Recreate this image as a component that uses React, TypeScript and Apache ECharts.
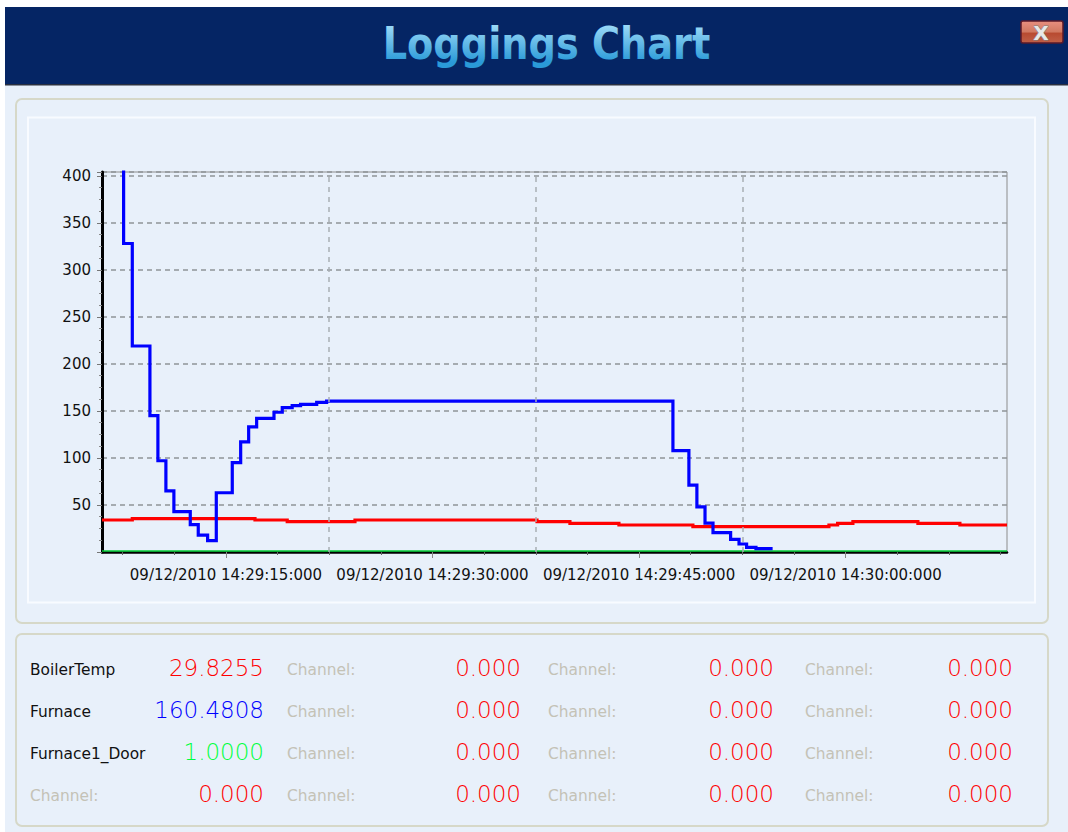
import React, { useEffect, useRef } from "react";
import * as echarts from "echarts";

const titleText = "Loggings Chart";
const dateText = "09/12/2010";
const baseMinute = "14:";

const blueTimes = [7.0, 7.57, 8.2, 9.48, 10.06, 10.64, 11.22, 12.41, 12.99, 13.67, 14.3, 15.46, 16.07, 16.65, 17.23, 18.49, 19.09, 19.81, 20.42, 21.59, 22.31, 47.46, 48.62, 49.2, 49.79, 50.37, 51.65, 52.26, 52.81, 53.49, 54.7];
const blueValues = [450, 328, 219, 145, 97, 65, 43, 29, 18, 12, 63, 95, 117, 133, 142, 148.6, 153.5, 155.6, 157, 159, 160.5, 107.8, 71, 48, 30.7, 20.5, 13.5, 8.5, 5, 3.5, 3.5];

const redTimes = [6, 8.2, 17.11, 19.45, 24.37, 37.59, 39.98, 43.54, 48.91, 58.79, 59.42, 60.53, 65.25, 68.3, 71.72];
const redValues = [34, 35.5, 34, 32.3, 34, 32.3, 30.5, 28.7, 27, 28.7, 30.5, 32.3, 30.5, 28.7, 28.7];

const greenTimes = [6, 71.72];
const greenValues = [1, 1];

const xMin = 6;
const xMax = 71.72;
const yMax = 404;
const yLabels = [50, 100, 150, 200, 250, 300, 350, 400];
const xMinorTicks = [7.5, 11.25, 15, 18.75, 22.5, 26.25, 30, 33.75, 37.5, 41.25, 45, 48.75, 52.5, 56.25, 60, 63.75, 67.5, 71.25];
const xMajorTicks = [15, 30, 45, 60];
const xGridLines = [22.5, 37.5, 52.5];

const rowY = [670, 712, 754, 796];
const columnLabelX = [30, 287, 548, 805];
const columnValueX = [264, 521, 774, 1013];
const cellLabels = [
  ["BoilerTemp", "Channel:", "Channel:", "Channel:"],
  ["Furnace", "Channel:", "Channel:", "Channel:"],
  ["Furnace1_Door", "Channel:", "Channel:", "Channel:"],
  ["Channel:", "Channel:", "Channel:", "Channel:"],
];
const cellValues = [
  ["29.8255", "0.000", "0.000", "0.000"],
  ["160.4808", "0.000", "0.000", "0.000"],
  ["1.0000", "0.000", "0.000", "0.000"],
  ["0.000", "0.000", "0.000", "0.000"],
];
const cellColors = [
  ["#ff0000", "#ff0000", "#ff0000", "#ff0000"],
  ["#0000ff", "#ff0000", "#ff0000", "#ff0000"],
  ["#00ff40", "#ff0000", "#ff0000", "#ff0000"],
  ["#ff0000", "#ff0000", "#ff0000", "#ff0000"],
];

const FONT = "'DejaVu Sans'";

const pairs = (xs: number[], ys: number[]) => xs.map((x, i) => [x, ys[i]]);
const timeLabel = (s: number) => {
  const m = 29 + Math.floor(s / 60);
  const sec = s % 60;
  return `${dateText} ${baseMinute}${m}:${String(sec).padStart(2, "0")}:000`;
};

function buildGraphic() {
  const els: any[] = [
    { type: "rect", z: -10, shape: { x: 5, y: 85, width: 1063, height: 747 }, style: { fill: "#e8f0fa" } },
    { type: "rect", z: -9, shape: { x: 5, y: 7, width: 1063, height: 77 }, style: { fill: "#052564" } },
    { type: "rect", z: -9, shape: { x: 5, y: 84, width: 1063, height: 1.5 }, style: { fill: "#2a3040" } },
    { type: "rect", z: -8, shape: { x: 16, y: 99, width: 1032, height: 524, r: 6 }, style: { fill: "#e8f0fa", stroke: "#d6d8c8", lineWidth: 2 } },
    { type: "rect", z: -7, shape: { x: 28, y: 117.5, width: 1007, height: 485 }, style: { fill: "#e8f0fa", stroke: "#f8fbff", lineWidth: 2 } },
    { type: "rect", z: -8, shape: { x: 16, y: 634, width: 1032, height: 192, r: 6 }, style: { fill: "#e8f0fa", stroke: "#d6d8c8", lineWidth: 2 } },
    {
      type: "text", x: 546.5, y: 66, scaleX: 0.87,
      style: {
        text: titleText, fontFamily: FONT, fontWeight: "bold", fontSize: 44, textAlign: "center", textVerticalAlign: "bottom",
        fill: "#5cb8ea",
      },
    },
    {
      type: "rect", shape: { x: 1021, y: 21, width: 42, height: 22, r: 2 },
      style: {
        stroke: "#5a1a2a", lineWidth: 1.5,
        fill: new echarts.graphic.LinearGradient(0, 0, 0, 1, [
          { offset: 0, color: "#e89080" },
          { offset: 0.5, color: "#d07860" },
          { offset: 0.55, color: "#b84a30" },
          { offset: 1, color: "#c06048" },
        ]),
      },
    },
    {
      type: "text", x: 1041, y: 33,
      style: { text: "X", fontFamily: FONT, fontWeight: "bold", fontSize: 20, textAlign: "center", textVerticalAlign: "middle", fill: "#e8e8e8", stroke: "#808080", lineWidth: 1 },
    },
  ];
  rowY.forEach((y, r) => {
    columnLabelX.forEach((x, c) => {
      const label = cellLabels[r][c];
      els.push({
        type: "text", x, y,
        style: { text: label, fontFamily: FONT, fontSize: 15.4, textVerticalAlign: "middle", fill: label === "Channel:" ? "#c4c2b6" : "#111111" },
      });
      els.push({
        type: "text", x: columnValueX[c], y: y - 2,
        style: { text: cellValues[r][c], fontFamily: FONT, fontWeight: 200, fontSize: 23, textAlign: "right", textVerticalAlign: "middle", fill: cellColors[r][c] },
      });
    });
  });
  return els;
}

// The title's vertical gradient: ECharts' SVG text takes a plain fill only, so the gradient is applied to the text node.
function paintTitleGradient(host: HTMLElement) {
  const svg = host.querySelector("svg");
  if (!svg) return;
  const NS = "http://www.w3.org/2000/svg";
  const title = Array.from(svg.querySelectorAll("text")).find((t) => t.textContent === titleText);
  if (!title) return;
  const defs = document.createElementNS(NS, "defs");
  const grad = document.createElementNS(NS, "linearGradient");
  grad.setAttribute("id", "titleGradient");
  grad.setAttribute("x1", "0");
  grad.setAttribute("y1", "0");
  grad.setAttribute("x2", "0");
  grad.setAttribute("y2", "1");
  [["0.1", "#a0dcf8"], ["0.85", "#2a9ad8"]].forEach(([offset, color]) => {
    const stop = document.createElementNS(NS, "stop");
    stop.setAttribute("offset", offset);
    stop.setAttribute("stop-color", color);
    grad.appendChild(stop);
  });
  defs.appendChild(grad);
  svg.appendChild(defs);
  title.setAttribute("fill", "url(#titleGradient)");
  title.style.fill = "url(#titleGradient)";
}

export default function App() {
  const ref = useRef<HTMLDivElement>(null);
  useEffect(() => {
    const chart = echarts.init(ref.current!, undefined, { renderer: "svg" });
    chart.setOption({
      animation: false,
      backgroundColor: "#ffffff",
      grid: { left: 102, top: 172, width: 905, height: 380, show: true, borderColor: "#8c8c8c", borderWidth: 1, backgroundColor: "transparent" },
      xAxis: [
        {
          type: "value", min: xMin, max: xMax, position: "bottom",
          axisLine: { onZero: false, lineStyle: { color: "#000000", width: 2.5 } },
          splitLine: { show: false },
          axisTick: { show: true, customValues: xMinorTicks, length: 3, lineStyle: { color: "#666666" } },
          axisLabel: {
            show: true, customValues: xMajorTicks, margin: 15, color: "#111111", fontFamily: FONT, fontSize: 15,
            hideOverlap: false, formatter: (v: number) => timeLabel(v),
          },
        },
        {
          type: "value", min: xMin, max: xMax, position: "bottom",
          axisLine: { show: false, onZero: false },
          splitLine: { show: false },
          axisTick: { show: true, customValues: xMajorTicks, length: 6, lineStyle: { color: "#888888" } },
          axisLabel: { show: false },
        },
      ],
      yAxis: {
        type: "value", min: 0, max: yMax, interval: 50,
        axisLine: { show: true, onZero: false, lineStyle: { color: "#000000", width: 3 } },
        axisTick: { show: true, length: 5, lineStyle: { color: "#777777" } },
        minorTick: { show: true, splitNumber: 4, length: 3, lineStyle: { color: "#888888" } },
        splitLine: { show: true, lineStyle: { color: "#8f9498", type: [5, 4], width: 1.5 } },
        axisLabel: {
          show: true, margin: 11, color: "#111111", fontFamily: FONT, fontSize: 15,
          formatter: (v: number) => (yLabels.includes(v) ? String(v) : ""),
        },
      },
      series: [
        {
          type: "line", name: "Furnace1_Door", data: pairs(greenTimes, greenValues), showSymbol: false, z: 2,
          lineStyle: { color: "#00cc33", width: 1.5 },
          markLine: {
            silent: true, symbol: "none", label: { show: false }, animation: false,
            lineStyle: { color: "#a8aeb4", type: [5, 5], width: 1.5 },
            data: xGridLines.map((x) => ({ xAxis: x })),
          },
        },
        {
          type: "line", name: "BoilerTemp", step: "end", data: pairs(redTimes, redValues), showSymbol: false, z: 3,
          lineStyle: { color: "#ff0000", width: 3.2, join: "miter" },
        },
        {
          type: "line", name: "Furnace", step: "end", data: pairs(blueTimes, blueValues), showSymbol: false, z: 4,
          lineStyle: { color: "#0000ff", width: 3.2, join: "miter" },
        },
      ],
      graphic: { elements: buildGraphic() },
    });
    paintTitleGradient(ref.current!);
    return () => chart.dispose();
  }, []);
  return <div ref={ref} style={{ position: "fixed", left: 0, top: 0, width: 1068, height: 832 }} />;
}
